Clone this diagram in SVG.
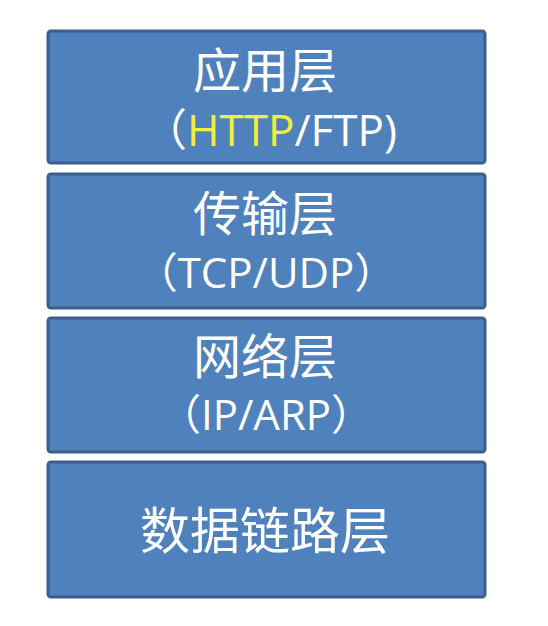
<svg xmlns="http://www.w3.org/2000/svg" width="548" height="626" viewBox="0 0 548 626">
<style>
.box{fill:#4f81bd;stroke:#3b5e8c;stroke-width:3}
.t{fill:#ffffff;font-family:"Open Sans","Noto Sans CJK SC",sans-serif;text-anchor:middle}
.c{font-family:"Noto Sans CJK SC",sans-serif;font-size:48px}
.l1{font-size:44px}
.l2{font-size:42px}
.y{fill:#f0f03c}
</style>
<rect width="548" height="626" fill="#ffffff"/>
<g id="app">
<rect class="box" x="48" y="31" width="437" height="132" rx="3"/>
<text class="t c" x="265" y="88">应用层</text>
<text class="t l1" x="270" y="146">（<tspan class="y">HTTP</tspan>/FTP)</text>
</g>
<g id="transport">
<rect class="box" x="48" y="174" width="437" height="134" rx="3"/>
<text class="t c" x="265" y="231">传输层</text>
<text class="t l2" x="266" y="288">（TCP/UDP）</text>
</g>
<g id="network">
<rect class="box" x="48" y="318" width="437" height="134" rx="3"/>
<text class="t c" x="265" y="374">网络层</text>
<text class="t l2" x="266" y="430">（IP/ARP）</text>
</g>
<g id="datalink">
<rect class="box" x="48" y="462" width="437" height="135" rx="3"/>
<text class="t c" style="font-size:50px" x="265" y="549">数据链路层</text>
</g>
<g id="connectors"></g>
</svg>
